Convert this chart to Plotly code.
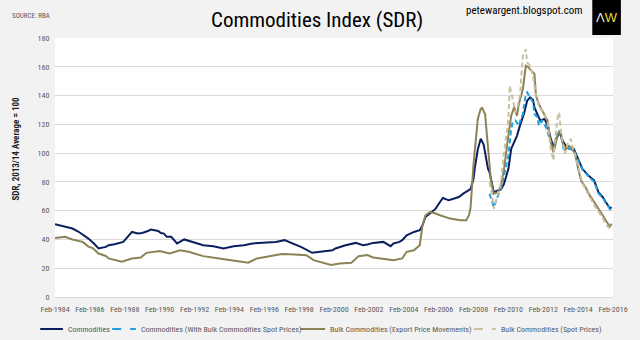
import plotly.graph_objects as go

# ---- Data ----
comm_dates = ["1984-02","1984-06","1984-10","1985-02","1985-06","1986-01","1986-05","1986-08","1987-01","1987-03",
              "1987-07","1987-10","1988-01","1988-04","1988-07","1988-11","1989-02","1989-06","1989-08","1990-01",
              "1990-03","1990-05","1990-07","1990-10","1991-02","1991-07","1992-02","1992-08","1993-03","1993-10",
              "1994-05","1994-12","1995-06","1996-03","1996-10","1997-04","1997-09","1998-04","1998-11","1999-06",
              "1999-08","2000-01","2000-03","2000-07","2000-10","2001-05","2001-10","2002-01","2002-05","2002-12",
              "2003-04","2003-05","2003-07","2003-11","2004-01","2004-02","2004-04","2004-09","2005-01","2005-03",
              "2005-05","2005-08","2005-12","2006-03","2006-05","2006-09","2006-12","2007-04","2007-07","2007-10",
              "2007-12","2008-02","2008-03","2008-05","2008-07","2008-09","2008-11","2008-12","2009-01","2009-03",
              "2009-04","2009-07","2009-09","2009-11","2010-02","2010-04","2010-06","2010-08","2010-10","2011-01",
              "2011-03","2011-05","2011-07","2011-08","2011-10","2011-12","2012-03","2012-05","2012-07","2012-09",
              "2012-10","2013-01","2013-02","2013-04","2013-06","2013-08","2013-11","2014-01","2014-03","2014-05",
              "2014-09","2015-01","2015-04","2015-07","2015-09","2015-12","2016-01"]
comm_vals = [50.5,49.5,48.5,47.6,45.5,40.6,37.0,33.7,34.8,36.0,
             36.7,37.6,38.3,41.8,45.2,44.1,44.5,45.9,46.9,45.9,
             44.5,44.1,41.8,41.8,37.2,40.0,37.6,36.0,35.3,33.7,
             35.3,36.0,37.2,37.6,38.3,39.5,37.4,34.5,30.7,31.4,
             32.0,32.5,33.7,35.3,36.0,37.6,36.0,36.5,37.6,38.3,
             36.0,35.3,37.2,38.3,39.5,40.6,42.9,45.2,46.4,49.9,
             55.6,58.0,61.4,66.0,68.8,67.2,68.4,69.5,71.8,74.1,
             75.0,82.0,90.0,102.5,110.0,106.0,93.0,89.0,86.8,77.6,
             72.9,74.1,74.8,78.7,89.1,103.0,107.5,112.2,119.1,128.3,
             136.4,138.7,137.0,131.8,127.0,122.6,123.8,119.1,111.0,104.1,
             107.5,114.5,112.2,107.5,104.1,103.0,103.0,98.3,92.6,89.1,
             84.5,81.0,72.9,69.5,66.0,61.4,62.5]

commspot_dates = ["2009-01","2009-03","2009-04","2009-07","2009-09","2009-11","2010-02","2010-04","2010-05","2010-07",
                  "2010-09","2010-12","2011-02","2011-03","2011-05","2011-07","2011-08","2011-10","2011-11","2012-01",
                  "2012-04","2012-07","2012-09","2012-10","2013-01","2013-03","2013-04","2013-06","2013-08","2013-11",
                  "2014-01","2014-03","2014-05","2014-09","2015-01","2015-04","2015-07","2015-09","2015-12","2016-01"]
commspot_vals = [71.8,66.0,62.5,70.6,75.3,84.5,98.3,116.8,121.4,122.6,
                 119.1,127.2,141.0,142.2,138.7,135.2,127.2,124.9,119.1,122.6,
                 118.0,108.7,101.8,107.5,115.7,108.7,103.0,104.1,103.0,102.0,
                 97.5,92.0,88.5,84.0,80.0,72.0,69.0,65.5,61.0,62.0]

bulk_dates = ["1984-02","1984-09","1985-02","1985-06","1985-09","1986-01","1986-04","1986-08","1987-01","1987-03",
              "1987-12","1988-07","1989-01","1989-05","1990-02","1990-09","1991-04","1991-10","1992-08","1993-07",
              "1994-04","1994-12","1995-03","1995-09","1996-05","1997-02","1997-11","1998-07","1998-12","1999-12",
              "2000-06","2001-02","2001-07","2002-01","2002-05","2003-01","2003-07","2004-01","2004-04","2004-09",
              "2005-01","2005-03","2005-05","2005-08","2005-11","2006-03","2006-10","2007-05","2007-09","2007-11",
              "2007-12","2008-02","2008-04","2008-05","2008-07","2008-08","2008-10","2008-12","2009-02","2009-04",
              "2009-07","2009-09","2009-11","2010-02","2010-04","2010-06","2010-08","2010-09","2010-12","2011-02",
              "2011-04","2011-06","2011-08","2011-09","2011-11","2012-02","2012-05","2012-07","2012-09","2012-10",
              "2012-12","2013-02","2013-03","2013-05","2013-07","2013-09","2013-12","2014-02","2014-04","2014-07",
              "2014-10","2015-01","2015-05","2015-07","2015-09","2015-12","2016-01"]
bulk_vals = [41.0,41.8,40.0,38.8,38.3,35.0,34.0,30.2,28.5,26.8,
             24.5,26.8,27.5,30.7,32.0,30.2,32.5,31.4,28.4,26.8,
             25.6,24.4,23.8,26.8,28.4,29.8,29.5,29.0,25.6,22.2,
             23.3,23.8,28.4,29.2,27.5,26.1,25.5,26.8,31.4,32.5,
             36.0,49.9,56.8,59.1,58.4,56.8,54.5,53.3,53.3,57.0,
             62.0,92.0,113.4,123.8,130.7,131.4,127.0,106.0,80.5,71.8,
             72.9,77.6,89.1,112.2,126.0,131.8,126.0,133.0,144.5,160.7,
             159.5,157.2,155.0,140.0,134.0,128.3,122.6,108.7,100.6,104.1,
             113.4,115.7,108.7,101.8,105.3,104.1,99.5,89.1,81.0,76.4,
             70.6,66.0,60.2,56.8,53.3,48.7,51.0]

bulkspot_dates = ["2009-01","2009-03","2009-04","2009-07","2009-09","2009-11","2010-02","2010-03","2010-05","2010-07",
                  "2010-08","2010-10","2010-12","2011-02","2011-03","2011-05","2011-07","2011-09","2011-11","2012-02",
                  "2012-05","2012-07","2012-09","2012-10","2012-12","2013-01","2013-02","2013-04","2013-05","2013-07",
                  "2013-09","2013-10","2014-01","2014-03","2014-05","2014-07","2014-10","2015-01","2015-05","2015-07",
                  "2015-09","2015-12","2016-01"]
bulkspot_vals = [79.8,70.6,61.4,72.9,79.8,100.6,123.8,146.8,137.6,128.3,
                 130.7,139.9,167.6,172.2,163.0,160.7,153.7,139.9,133.0,128.0,
                 122.0,104.1,94.9,108.7,124.9,128.3,115.7,104.1,99.5,107.5,
                 109.9,105.3,94.9,87.0,79.0,75.0,70.0,64.0,58.0,55.0,
                 50.5,47.6,50.0]

series_names = ["Commodities", "Commodities (With Bulk Commodities Spot Prices)",
                "Bulk Commodities (Export Price Movements)", "Bulk Commodities (Spot Prices)"]
series_colors = ["#0b1f5e", "#1aa3df", "#8b8356", "#c9c0a2"]
series_dash = ["solid", "5px,3px", "solid", "5px,3px"]

NARROW = "Roboto Condensed, Liberation Sans Narrow, Arial Narrow, sans-serif"

# pixel layout helpers (640x340 canvas)
L, R, T, B = 55, 621, 38, 297
def px(x):
    return (x - L) / (R - L)
def py(y):
    return (B - y) / (B - T)

fig = go.Figure()
data = [(comm_dates, comm_vals), (commspot_dates, commspot_vals),
        (bulk_dates, bulk_vals), (bulkspot_dates, bulkspot_vals)]
for (d, v), n, c, ds in zip(data, series_names, series_colors, series_dash):
    fig.add_trace(go.Scatter(x=d, y=v, mode="lines", name=n, line=dict(color=c, width=2, dash=ds)))

annotations = [
    dict(text="Commodities Index (SDR)", x=px(321), y=py(20), font=dict(family=NARROW, size=21, color="#000000"),
         xanchor="center"),
    dict(text="SOURCE: RBA", x=px(9), y=py(16), font=dict(family=NARROW, size=7, color="#595959"),
         xanchor="left"),
    dict(text="petewargent.blogspot.com", x=px(593), y=py(11),
         font=dict(family=NARROW, size=11, color="#000000"), xanchor="right"),
    dict(text="<b>SDR, 2013/14 Average = 100</b>", x=px(15), y=py(149), textangle=-90,
         font=dict(family=NARROW, size=9, color="#222222"), xanchor="center"),
    dict(text="<span style='color:#e8e8e8'>Λ</span><span style='color:#e3d83a'>W</span>",
         x=px(614.5), y=py(18), font=dict(family="Liberation Sans, Arial, sans-serif", size=13, color="#ffffff"),
         xanchor="center"),
]
shapes = [
    dict(type="rect", xref="paper", yref="paper", x0=px(600), x1=px(629), y0=py(35), y1=py(0),
         fillcolor="#000000", line=dict(width=0), layer="above"),
]

# manual legend
leg_y = 329
leg_items = [(40, 63, 66), (113, 137, 140), (304, 329, 332), (480, 502, 505)]
for (x0, x1, xt), n, c, ds in zip(leg_items, series_names, series_colors, series_dash):
    shapes.append(dict(type="line", xref="paper", yref="paper", x0=px(x0), x1=px(x1), y0=py(leg_y), y1=py(leg_y),
                       line=dict(color=c, width=2, dash=("dash" if ds != "solid" else "solid"))))
    annotations.append(dict(text=n, x=px(xt), y=py(leg_y), xanchor="left",
                            font=dict(family=NARROW, size=8, color="#595959")))

for a in annotations:
    a.update(xref="paper", yref="paper", showarrow=False, yanchor="middle")

fig.update_layout(
    width=640, height=340,
    margin=dict(l=L, r=640 - R, t=T, b=340 - B),
    paper_bgcolor="#f2f2f2", plot_bgcolor="#ffffff",
    font=dict(family=NARROW, size=8, color="#595959"),
    showlegend=False,
    xaxis=dict(type="date", range=["1984-02-01", "2016-02-01"], tick0="1984-02-01", dtick="M24",
               tickformat="%b-%Y", tickangle=0, showgrid=False, ticks="outside", ticklen=4,
               tickcolor="rgba(0,0,0,0)", showline=True, linecolor="#d9d9d9",
               tickfont=dict(family=NARROW, size=8, color="#595959"), zeroline=False),
    yaxis=dict(range=[0, 180], dtick=20, showgrid=True, gridcolor="#d9d9d9", gridwidth=1,
               ticks="outside", ticklen=3, tickcolor="rgba(0,0,0,0)", zeroline=False,
               tickfont=dict(family=NARROW, size=8, color="#595959")),
    annotations=annotations,
    shapes=shapes,
)

fig.write_html("out.html", include_plotlyjs=True, full_html=True,
               config=dict(displayModeBar=False))
